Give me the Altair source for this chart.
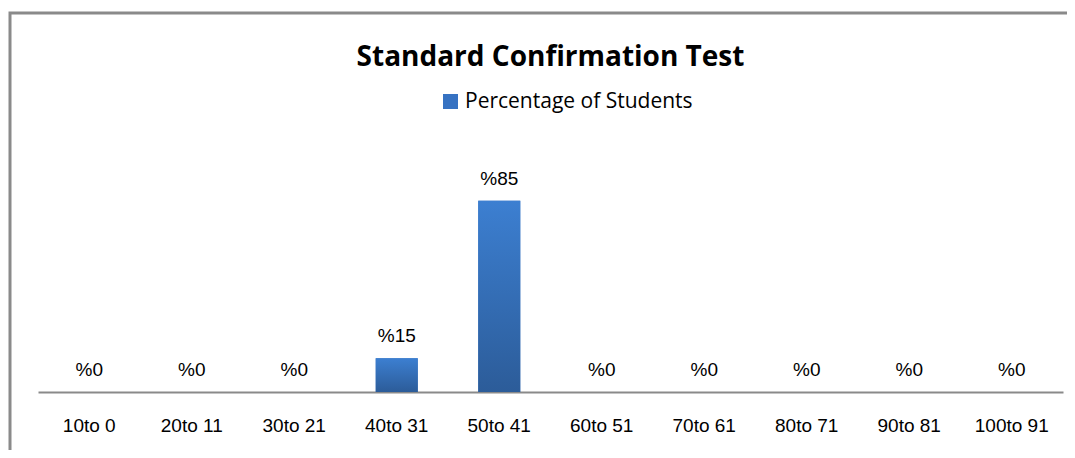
import altair as alt
import pandas as pd

categories = ["10to 0", "20to 11", "30to 21", "40to 31", "50to 41",
              "60to 51", "70to 61", "80to 71", "90to 81", "100to 91"]
values = [0, 0, 0, 15, 85, 0, 0, 0, 0, 0]
series_name = "Percentage of Students"
title_text = "Standard Confirmation Test"

df = pd.DataFrame({
    "range": categories,
    "value": values,
    "label": ["%" + str(v) for v in values],
    "series": [series_name] * len(values),
})

W, H = 1025, 225

gradient = alt.Gradient(
    gradient="linear",
    stops=[alt.GradientStop(color="#3c7fd1", offset=0),
           alt.GradientStop(color="#2c5c99", offset=1)],
    x1=0, x2=0, y1=0, y2=1,
)

x_enc = alt.X("range:N", sort=categories, title=None,
              scale=alt.Scale(paddingInner=0.59, paddingOuter=0.295),
              axis=alt.Axis(labelAngle=0, ticks=False, grid=False,
                            domainColor="#8a8a8a", domainWidth=2,
                            labelFont="Liberation Sans", labelFontSize=19,
                            labelColor="#000000", labelPadding=24))
y_enc = alt.Y("value:Q", scale=alt.Scale(domain=[0, 100]), axis=None)

base = alt.Chart(df)

legend_bars = base.mark_bar().encode(
    x=x_enc, y=y_enc,
    color=alt.Color("series:N", title=None,
                    scale=alt.Scale(range=["#3672c2"]),
                    legend=alt.Legend(orient="none", legendX=402, legendY=-76,
                                      symbolType="square", symbolSize=225,
                                      symbolStrokeWidth=0, labelLimit=0,
                                      labelFont="Open Sans", labelFontSize=21,
                                      labelColor="#000000", labelOffset=4)),
)

grad_bars = base.mark_bar(color=gradient).encode(x=x_enc, y=y_enc)

labels = base.mark_text(dy=-22, baseline="middle", font="Liberation Sans",
                        fontSize=19, color="#000000").encode(
    x=x_enc, y=y_enc, text="label:N")

frame = alt.Chart(pd.DataFrame({"f": [0]})).mark_rect(
    fill=None, stroke="#8a8a8a", strokeWidth=3).encode(
    x=alt.value(-28), x2=alt.value(W + 200),
    y=alt.value(-154), y2=alt.value(H + 300))

chart = alt.layer(frame, legend_bars, grad_bars, labels).properties(
    width=W, height=H,
    title=alt.TitleParams(title_text, font="Open Sans", fontSize=28,
                          fontWeight="bold", color="#000000", anchor="middle",
                          offset=0, dy=60),
    padding={"left": 30, "right": 4, "top": 159, "bottom": 58},
    autosize=alt.AutoSizeParams(type="none"),
).configure_view(stroke=None)

chart.save("out.html", embed_options={"renderer": "svg", "actions": False})
